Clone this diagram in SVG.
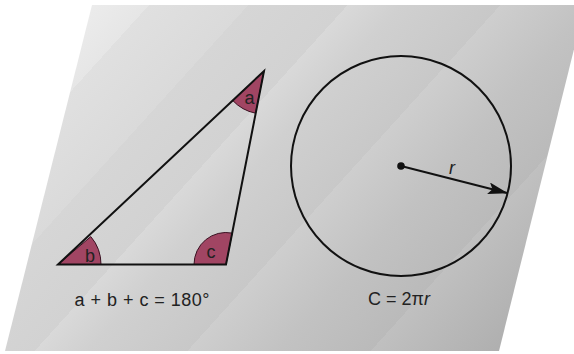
<svg xmlns="http://www.w3.org/2000/svg" width="574" height="354" viewBox="0 0 574 354">
<defs>
<linearGradient id="bg" gradientUnits="userSpaceOnUse" x1="80" y1="-20" x2="500" y2="360">
<stop offset="0" stop-color="#efefef"/>
<stop offset="0.12" stop-color="#e6e6e6"/>
<stop offset="0.12" stop-color="#e0e0e0"/>
<stop offset="0.25" stop-color="#dadada"/>
<stop offset="0.25" stop-color="#d6d6d6"/>
<stop offset="0.38" stop-color="#d2d2d2"/>
<stop offset="0.38" stop-color="#d9d9d9"/>
<stop offset="0.45" stop-color="#d0d0d0"/>
<stop offset="0.58" stop-color="#c8c8c8"/>
<stop offset="0.58" stop-color="#cecece"/>
<stop offset="0.7" stop-color="#c2c2c2"/>
<stop offset="0.82" stop-color="#bababa"/>
<stop offset="0.82" stop-color="#c0c0c0"/>
<stop offset="1" stop-color="#aeaeae"/>
</linearGradient>
<marker id="arrow" viewBox="0 0 20 12" refX="19" refY="6" markerWidth="20" markerHeight="12" markerUnits="userSpaceOnUse" orient="auto">
<path d="M0,0 L20,6 L0,12 L4,6 Z" fill="#111"/>
</marker>
<style>
.line{fill:none;stroke:#111;stroke-width:2;stroke-linejoin:miter}
.sector{fill:#a14563;stroke:#3a1222;stroke-width:1}
.lbl{font-family:"Liberation Sans",Arial,sans-serif;fill:#222}
.small{font-size:18px}
.big{font-size:18px}
</style>
</defs>
<rect width="574" height="354" fill="#ffffff"/>
<polygon id="background" points="92,5 585,5 499,351 5,351" fill="url(#bg)"/>
<g id="triangle">
<path class="sector" d="M58,264.5 L101,264.5 A43,43 0 0 0 90.8,236.6 Z"/>
<path class="sector" d="M264,71 L232.6,100.4 A43,43 0 0 0 255.5,113.2 Z"/>
<path class="sector" d="M226,264.5 L232.2,233.1 A32,32 0 0 0 194,264.5 Z"/>
<polygon class="line" points="58,264.5 264,71 226,264.5"/>
<text class="lbl small" x="249.5" y="104" text-anchor="middle">a</text>
<text class="lbl small" x="90" y="262" text-anchor="middle">b</text>
<text class="lbl small" x="211" y="258" text-anchor="middle">c</text>
<text class="lbl big" x="142" y="306" text-anchor="middle" textLength="135">a + b + c = 180°</text>
</g>
<g id="circle">
<circle class="line" cx="401" cy="166" r="110"/>
<circle cx="401" cy="166" r="3.8" fill="#111"/>
<text class="lbl small" x="452" y="174" text-anchor="middle" font-style="italic">r</text>
<text class="lbl big" x="399" y="305" text-anchor="middle">C = 2π<tspan font-style="italic">r</tspan></text>
</g>
<g id="connectors">
<line class="line" x1="401" y1="166" x2="507" y2="193" marker-end="url(#arrow)"/>
</g>
</svg>
